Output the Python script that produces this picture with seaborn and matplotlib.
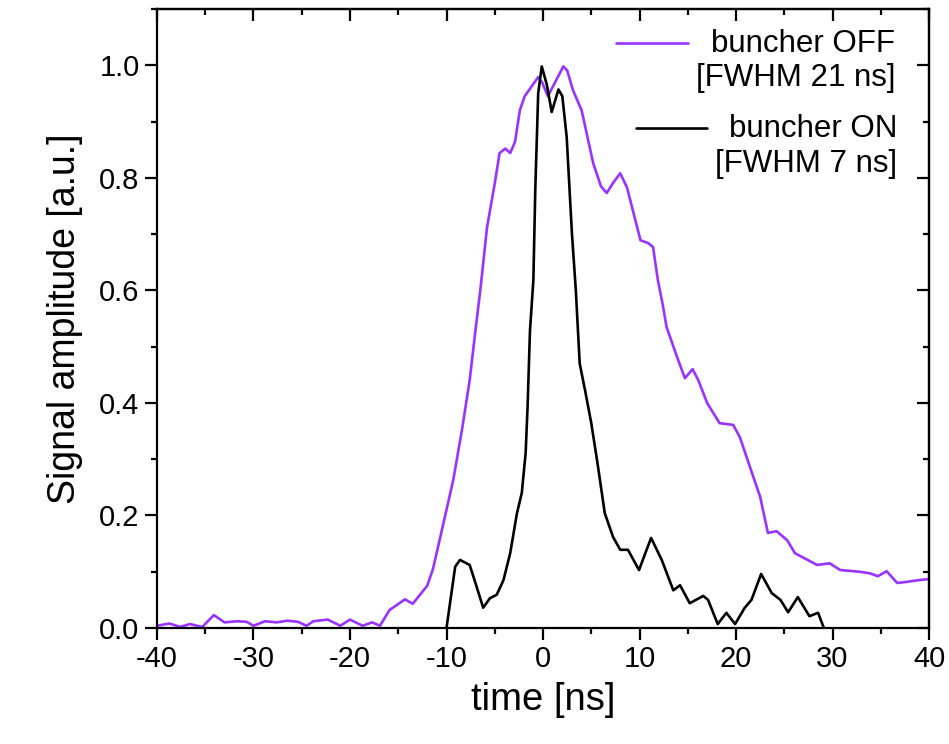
import numpy as np
import matplotlib
matplotlib.use("Agg")
import matplotlib.pyplot as plt
from matplotlib.legend import Legend
from matplotlib.ticker import MultipleLocator, FormatStrFormatter, NullFormatter
import seaborn as sns

# buncher OFF trace
time_off = [-40.0, -38.7, -37.6, -36.6, -35.3, -34.1, -33.0, -31.7, -30.7, -30.0,
            -28.8, -27.6, -26.5, -25.4, -24.5, -23.8, -22.3, -21.0, -20.0, -18.7,
            -17.7, -16.9, -15.9, -14.3, -13.5, -12.0, -11.4, -10.4, -9.3, -8.4,
            -7.6, -7.0, -6.5, -5.8, -5.0, -4.5, -3.9, -3.4, -2.9, -2.4,
            -1.9, -1.2, -0.5, -0.1, 0.5, 1.2, 2.1, 2.5, 3.1, 4.0,
            5.2, 6.0, 6.6, 7.3, 8.0, 8.7, 10.1, 10.9, 11.4, 11.9,
            12.4, 12.8, 13.9, 14.7, 15.5, 16.1, 17.0, 18.3, 19.7, 20.4,
            21.8, 22.5, 23.3, 24.2, 25.3, 26.1, 28.4, 29.7, 30.8, 32.8,
            33.9, 34.7, 35.6, 36.7, 37.7, 38.9, 40.0]
amp_off = [0.004, 0.008, 0.002, 0.007, 0.002, 0.023, 0.010, 0.012, 0.011, 0.004,
           0.012, 0.010, 0.013, 0.011, 0.004, 0.012, 0.015, 0.004, 0.015, 0.004,
           0.010, 0.004, 0.032, 0.051, 0.043, 0.075, 0.105, 0.180, 0.263, 0.352,
           0.440, 0.529, 0.600, 0.712, 0.790, 0.844, 0.852, 0.844, 0.864, 0.920,
           0.945, 0.962, 0.979, 0.970, 0.945, 0.968, 0.998, 0.991, 0.956, 0.920,
           0.826, 0.785, 0.773, 0.792, 0.808, 0.783, 0.689, 0.684, 0.677, 0.618,
           0.575, 0.535, 0.481, 0.444, 0.460, 0.440, 0.400, 0.364, 0.361, 0.339,
           0.268, 0.233, 0.169, 0.172, 0.156, 0.133, 0.112, 0.115, 0.103, 0.100,
           0.097, 0.092, 0.101, 0.080, 0.082, 0.085, 0.087]

# buncher ON trace
time_on = [-10.0, -9.1, -8.6, -7.6, -7.0, -6.2, -5.5, -4.8, -4.1, -3.4,
           -2.7, -2.2, -1.8, -1.6, -1.35, -1.0, -0.8, -0.5, -0.13, 0.4,
           0.9, 1.6, 2.0, 2.45, 3.0, 3.4, 3.8, 4.35, 5.0, 5.6,
           5.9, 6.4, 7.25, 8.0, 8.8, 9.95, 10.6, 11.2, 12.3, 13.5,
           14.2, 15.2, 16.6, 17.1, 18.1, 19.0, 19.9, 20.9, 21.6, 22.6,
           23.7, 24.6, 25.4, 26.4, 27.6, 28.5, 29.1]
amp_on = [0.0, 0.109, 0.121, 0.112, 0.080, 0.036, 0.053, 0.059, 0.085, 0.133,
          0.204, 0.240, 0.311, 0.393, 0.529, 0.618, 0.780, 0.950, 0.998, 0.965,
          0.917, 0.957, 0.945, 0.873, 0.700, 0.600, 0.470, 0.423, 0.364, 0.298,
          0.263, 0.204, 0.162, 0.139, 0.139, 0.103, 0.133, 0.160, 0.121, 0.067,
          0.076, 0.044, 0.057, 0.050, 0.007, 0.027, 0.007, 0.036, 0.050, 0.096,
          0.062, 0.050, 0.028, 0.055, 0.021, 0.027, 0.0]

labels = ["buncher OFF\n[FWHM 21 ns]", "buncher ON\n[FWHM 7 ns]"]
colors = ["#9933FF", "black"]

sns.set_style("ticks")
plt.rcParams.update({
    "font.family": ["Liberation Sans", "DejaVu Sans"],
    "axes.unicode_minus": False,
    "axes.linewidth": 1.6,
    "axes.edgecolor": "black",
    "axes.labelcolor": "black",
    "text.color": "black",
    "xtick.color": "black",
    "ytick.color": "black",
})

fig = plt.figure(figsize=(9.49, 7.44), dpi=100)
ax = fig.add_axes([0.1654, 0.1559, 0.8136, 0.8320])

sns.lineplot(x=time_off, y=amp_off, ax=ax, color=colors[0], lw=1.9,
             estimator=None, legend=False)
sns.lineplot(x=time_on, y=amp_on, ax=ax, color=colors[1], lw=1.9,
             estimator=None, legend=False)

ax.set_xlim(-40, 40)
ax.set_ylim(0, 1.1)
ax.xaxis.set_major_locator(MultipleLocator(10))
ax.xaxis.set_minor_locator(MultipleLocator(5))
ax.yaxis.set_major_locator(MultipleLocator(0.2))
ax.yaxis.set_minor_locator(MultipleLocator(0.1))
ax.yaxis.set_major_formatter(FormatStrFormatter("%.1f"))
ax.tick_params(which="major", direction="out", length=8.5, width=1.6,
               labelsize=21, pad=4)
ax.tick_params(which="minor", direction="out", length=4.5, width=1.6)

# mirrored ticks pointing inward on top / right
top = ax.secondary_xaxis("top")
top.xaxis.set_major_locator(MultipleLocator(10))
top.xaxis.set_minor_locator(MultipleLocator(5))
top.xaxis.set_major_formatter(NullFormatter())
top.tick_params(which="major", direction="in", length=8.5, width=1.6)
top.tick_params(which="minor", direction="in", length=4.5, width=1.6)
right = ax.secondary_yaxis("right")
right.yaxis.set_major_locator(MultipleLocator(0.2))
right.yaxis.set_minor_locator(MultipleLocator(0.1))
right.yaxis.set_major_formatter(NullFormatter())
right.tick_params(which="major", direction="in", length=8.5, width=1.6)
right.tick_params(which="minor", direction="in", length=4.5, width=1.6)

ax.set_xlabel("time [ns]", fontsize=27.5, labelpad=6)
ax.set_ylabel("Signal amplitude [a.u.]", fontsize=27, labelpad=12)

# one legend per trace, text right aligned, handle on the first line
fs = 22.5
anchors = [(0.956, 0.968), (0.959, 0.830)]
for line, lab, anc in zip(ax.get_lines(), labels, anchors):
    leg = Legend(ax, [line], [lab], loc="upper right", bbox_to_anchor=anc,
                 frameon=False, fontsize=fs, handlelength=2.3,
                 handletextpad=0.25, borderpad=0, borderaxespad=0)
    for t in leg.get_texts():
        t.set_multialignment("right")
        t.set_color("black")
    for h in leg.get_lines():
        h.set_ydata(np.asarray(h.get_ydata()) + 0.6 * fs)
    ax.add_artist(leg)

fig.savefig("out.png", dpi=100, facecolor="white")
